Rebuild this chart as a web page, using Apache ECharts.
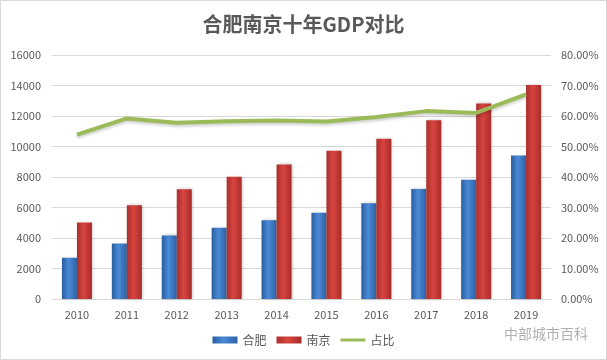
<!DOCTYPE html>
<html><head><meta charset="utf-8">
<script src="https://cdn.jsdelivr.net/npm/echarts@6/dist/echarts.min.js"></script>
<style>html,body{margin:0;padding:0;background:#fff}#c{width:605px;height:358px;border:1px solid #d9d9d9}</style>
</head><body><div id="c"></div>
<script>
const categories = ['2010','2011','2012','2013','2014','2015','2016','2017','2018','2019'];
const hefei = [2702, 3637, 4164, 4673, 5158, 5660, 6274, 7213, 7823, 9409];
const nanjing = [5012, 6146, 7202, 8012, 8821, 9721, 10503, 11715, 12820, 14030];
const ratio = [53.9, 59.2, 57.8, 58.3, 58.5, 58.2, 59.7, 61.6, 61.0, 67.1];
const leftTicks = [0, 16000, 2000];
const rightTicks = [0, 80, 10];

const chart = echarts.init(document.getElementById('c'));
const font = '"Noto Sans CJK SC", "Noto Sans", sans-serif';
const grad = (a, b, c) => new echarts.graphic.LinearGradient(0, 0, 1, 0, [
  {offset: 0, color: a}, {offset: 0.45, color: b}, {offset: 1, color: c}]);
chart.setOption({
  animation: false,
  textStyle: {fontFamily: font},
  title: {text: '合肥南京十年GDP对比', left: 'center', top: 8,
    textStyle: {fontSize: 20, fontWeight: 'bold', color: '#595959', fontFamily: font}},
  grid: {left: 51, right: 55, top: 54, bottom: 60},
  legend: {bottom: 8, left: 'center', itemWidth: 25, itemHeight: 7, itemGap: 10,
    textStyle: {fontSize: 12, color: '#595959'},
    data: [{name: '合肥', icon: 'rect'}, {name: '南京', icon: 'rect'},
      {name: '占比', icon: 'path://M0,0H25V3H0Z'}]},
  xAxis: {type: 'category', data: categories,
    axisLine: {lineStyle: {color: '#d9d9d9'}}, axisTick: {show: false},
    axisLabel: {color: '#595959', fontSize: 11, margin: 10}},
  yAxis: [
    {type: 'value', min: leftTicks[0], max: leftTicks[1], interval: leftTicks[2],
      axisLine: {show: false}, axisTick: {show: false},
      axisLabel: {color: '#595959', fontSize: 11, margin: 11, formatter: v => String(v)},
      splitLine: {lineStyle: {color: '#d9d9d9'}}},
    {type: 'value', min: rightTicks[0], max: rightTicks[1], interval: rightTicks[2],
      axisLine: {show: false}, axisTick: {show: false},
      axisLabel: {color: '#595959', fontSize: 11, margin: 10, formatter: v => v.toFixed(2) + '%'},
      splitLine: {show: false}}
  ],
  series: [
    {name: '合肥', type: 'bar', data: hefei, barWidth: 15, barGap: '0%',
      itemStyle: {color: grad('#2a5d9f', '#4a8ad6', '#2c62a6'), shadowColor: 'rgba(0,0,0,0.25)', shadowBlur: 3, shadowOffsetX: 1}},
    {name: '南京', type: 'bar', data: nanjing, barWidth: 15,
      itemStyle: {color: grad('#a9302d', '#d8443f', '#a62c29'), shadowColor: 'rgba(0,0,0,0.25)', shadowBlur: 3, shadowOffsetX: 1}},
    {name: '占比', type: 'line', yAxisIndex: 1, data: ratio, symbol: 'none',
      lineStyle: {color: '#9bbb59', width: 4, shadowColor: 'rgba(0,0,0,0.2)', shadowBlur: 3, shadowOffsetY: 2},
      itemStyle: {color: '#9bbb59'}}
  ],
  graphic: [{type: 'text', right: 18, bottom: 18,
    style: {text: '中部城市百科', fill: '#b0b0b0', font: '14px ' + font}}]
});
</script></body></html>
